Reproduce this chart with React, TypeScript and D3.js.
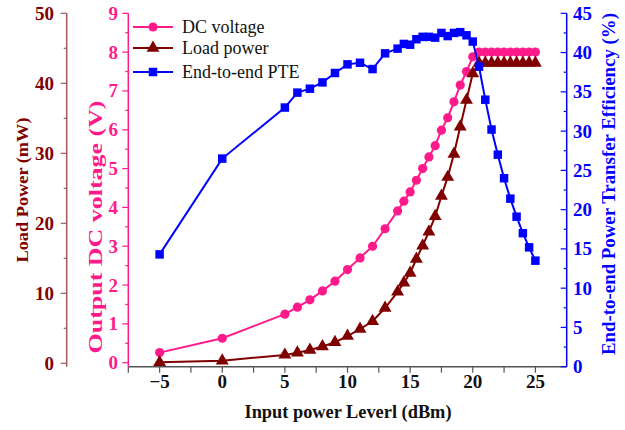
import React from "react";
import * as d3 from "d3";

const xs = [-5, 0, 5, 6, 7, 8, 9, 10, 11, 12, 13, 14, 14.5, 15, 15.5, 16, 16.5, 17, 17.5, 18, 18.5, 19, 19.5, 20, 20.5, 21, 21.5, 22, 22.5, 23, 23.5, 24, 24.5, 25];
const dcVoltage = [0.26, 0.63, 1.25, 1.43, 1.62, 1.85, 2.10, 2.40, 2.70, 3.00, 3.45, 3.91, 4.16, 4.40, 4.70, 5.00, 5.30, 5.59, 5.99, 6.31, 6.72, 7.15, 7.50, 7.88, 8, 8, 8, 8, 8, 8, 8, 8, 8, 8];
const loadPower = [0.14, 0.37, 1.2, 1.5, 1.9, 2.4, 3.0, 3.9, 4.9, 6.0, 7.9, 10.2, 11.5, 12.9, 14.9, 16.8, 18.8, 21.0, 23.9, 26.6, 29.9, 33.8, 37.6, 41.4, 42.9, 42.9, 42.9, 42.9, 42.9, 42.9, 42.9, 42.9, 42.9, 42.9];
const pte = [14.3, 26.5, 33.0, 34.9, 35.4, 36.2, 37.4, 38.5, 38.7, 37.9, 39.9, 40.5, 41.1, 41.0, 41.7, 42.0, 42.0, 41.9, 42.5, 42.1, 42.5, 42.6, 42.2, 41.4, 38.2, 34.0, 30.2, 27.0, 24.0, 21.4, 19.1, 17.0, 15.2, 13.5];

const xTicks = [-5, 0, 5, 10, 15, 20, 25];
const xMinor = [-7.5, -2.5, 2.5, 7.5, 12.5, 17.5, 22.5];
const vTicks = [0, 1, 2, 3, 4, 5, 6, 7, 8, 9];
const pTicks = [0, 10, 20, 30, 40, 50];
const eTicks = [0, 5, 10, 15, 20, 25, 30, 35, 40, 45];

const legendItems = ["DC voltage", "Load power", "End-to-end PTE"];

const PINK = "#ff1a8c";
const MAROON = "#800000";
const BROWN_AXIS = "#a05a5a";
const BLUE = "#0000ff";
const FONT = "'Liberation Serif', 'Times New Roman', serif";

export default function App() {
  const x = d3.scaleLinear().domain([-7.5, 27.5]).range([128.3, 566.7]);
  const yV = d3.scaleLinear().domain([0, 9]).range([362.7, 13.3]);
  const yP = d3.scaleLinear().domain([0, 50]).range([363.3, 13.3]);
  const yE = d3.scaleLinear().domain([0, 45]).range([366.7, 13.3]);
  const xAxisY = 366.7;

  const lineGen = (ys: number[], sc: d3.ScaleLinear<number, number>) =>
    d3.line<number>().x((_, i) => x(xs[i])).y((d) => sc(d))(ys) || "";

  const tri = d3.symbol().type(d3.symbolTriangle).size(72)() || "";
  const sq = d3.symbol().type(d3.symbolSquare).size(72)() || "";

  const brownX = 66.7;
  const pinkX = 128.3;
  const blueX = 566.7;

  const pMinor = d3.range(5, 50, 10);
  const vMinor = d3.range(0.5, 9, 1);
  const eMinor = d3.range(2.5, 45, 5);

  return (
    <svg width={625} height={430} style={{ position: "absolute", left: 0, top: 0, background: "#fff" }} fontFamily={FONT}>
      {/* x axis */}
      <line x1={pinkX} x2={blueX} y1={xAxisY} y2={xAxisY} stroke="#555" strokeWidth={1.5} />
      {[...xTicks, ...xMinor].map((t) => (
        <line key={"xt" + t} x1={x(t)} x2={x(t)} y1={xAxisY} y2={xAxisY + 6} stroke="#555" strokeWidth={1.2} />
      ))}
      {xTicks.map((t) => (
        <text key={"xl" + t} x={x(t)} y={387.5} textAnchor="middle" fontSize={19} fontWeight="bold" fill="#111">
          {t < 0 ? "\u2212" + Math.abs(t) : t}
        </text>
      ))}
      <text x={348} y={418} textAnchor="middle" fontSize={18} fontWeight="bold" fill="#111" textLength={207} lengthAdjust="spacingAndGlyphs">
        Input power Leverl (dBm)
      </text>

      {/* Load power axis */}
      <line x1={brownX} x2={brownX} y1={13.3} y2={366.7} stroke={BROWN_AXIS} strokeWidth={1.5} />
      {pTicks.map((t) => (
        <line key={"pt" + t} x1={brownX - 6} x2={brownX} y1={yP(t)} y2={yP(t)} stroke={BROWN_AXIS} strokeWidth={1.2} />
      ))}
      {pMinor.map((t) => (
        <line key={"pm" + t} x1={brownX - 3} x2={brownX} y1={yP(t)} y2={yP(t)} stroke={BROWN_AXIS} strokeWidth={1.2} />
      ))}
      {pTicks.map((t) => (
        <text key={"pl" + t} x={54} y={yP(t) + 6.5} textAnchor="end" fontSize={19} fontWeight="bold" fill={MAROON}>
          {t}
        </text>
      ))}
      <text transform="translate(28,190) rotate(-90)" textAnchor="middle" fontSize={17} fontWeight="bold" fill={MAROON} textLength={145} lengthAdjust="spacingAndGlyphs">
        Load Power (mW)
      </text>

      {/* DC voltage axis */}
      <line x1={pinkX} x2={pinkX} y1={13.3} y2={366.7} stroke={PINK} strokeWidth={1.5} />
      {vTicks.map((t) => (
        <line key={"vt" + t} x1={pinkX - 6} x2={pinkX} y1={yV(t)} y2={yV(t)} stroke={PINK} strokeWidth={1.2} />
      ))}
      {vMinor.map((t) => (
        <line key={"vm" + t} x1={pinkX - 3} x2={pinkX} y1={yV(t)} y2={yV(t)} stroke={PINK} strokeWidth={1.2} />
      ))}
      {vTicks.map((t) => (
        <text key={"vl" + t} x={118} y={yV(t) + 6.5} textAnchor="end" fontSize={19} fontWeight="bold" fill={PINK}>
          {t}
        </text>
      ))}
      <text transform="translate(102,227) rotate(-90)" textAnchor="middle" fontSize={19} fontWeight="bold" fill={PINK} textLength={253} lengthAdjust="spacingAndGlyphs">
        Output DC voltage (V)
      </text>

      {/* PTE axis */}
      <line x1={blueX} x2={blueX} y1={13.3} y2={366.7} stroke={BLUE} strokeWidth={1.5} />
      {eTicks.map((t) => (
        <line key={"et" + t} x1={blueX - 6} x2={blueX} y1={yE(t)} y2={yE(t)} stroke={BLUE} strokeWidth={1.2} />
      ))}
      {eMinor.map((t) => (
        <line key={"em" + t} x1={blueX - 3} x2={blueX} y1={yE(t)} y2={yE(t)} stroke={BLUE} strokeWidth={1.2} />
      ))}
      {eTicks.map((t) => (
        <text key={"el" + t} x={573} y={yE(t) + 6.5} textAnchor="start" fontSize={19} fontWeight="bold" fill={BLUE}>
          {t}
        </text>
      ))}
      <text transform="translate(615,184) rotate(-90)" textAnchor="middle" fontSize={19} fontWeight="bold" fill={BLUE} textLength={342} lengthAdjust="spacingAndGlyphs">
        End-to-end Power Transfer Efficiency (%)
      </text>

      {/* series */}
      <path d={lineGen(dcVoltage, yV)} fill="none" stroke={PINK} strokeWidth={2} />
      {dcVoltage.map((v, i) => (
        <circle key={"c" + i} cx={x(xs[i])} cy={yV(v)} r={4.6} fill={PINK} />
      ))}
      <path d={lineGen(loadPower, yP)} fill="none" stroke={MAROON} strokeWidth={2} />
      {loadPower.map((v, i) => (
        <path key={"t" + i} d={tri} transform={`translate(${x(xs[i])},${yP(v)})`} fill={MAROON} />
      ))}
      <path d={lineGen(pte, yE)} fill="none" stroke={BLUE} strokeWidth={2} />
      {pte.map((v, i) => (
        <path key={"s" + i} d={sq} transform={`translate(${x(xs[i])},${yE(v)})`} fill={BLUE} />
      ))}

      {/* legend */}
      {legendItems.map((name, i) => {
        const ly = [27, 48, 72][i];
        const col = [PINK, MAROON, BLUE][i];
        return (
          <g key={name}>
            <line x1={133} x2={173} y1={ly} y2={ly} stroke={col} strokeWidth={2} />
            {i === 0 && <circle cx={153} cy={ly} r={4.6} fill={col} />}
            {i === 1 && <path d={tri} transform={`translate(153,${ly})`} fill={col} />}
            {i === 2 && <path d={sq} transform={`translate(153,${ly})`} fill={col} />}
            <text x={182} y={ly + 6} fontSize={18} fill="#111">
              {name}
            </text>
          </g>
        );
      })}
    </svg>
  );
}
